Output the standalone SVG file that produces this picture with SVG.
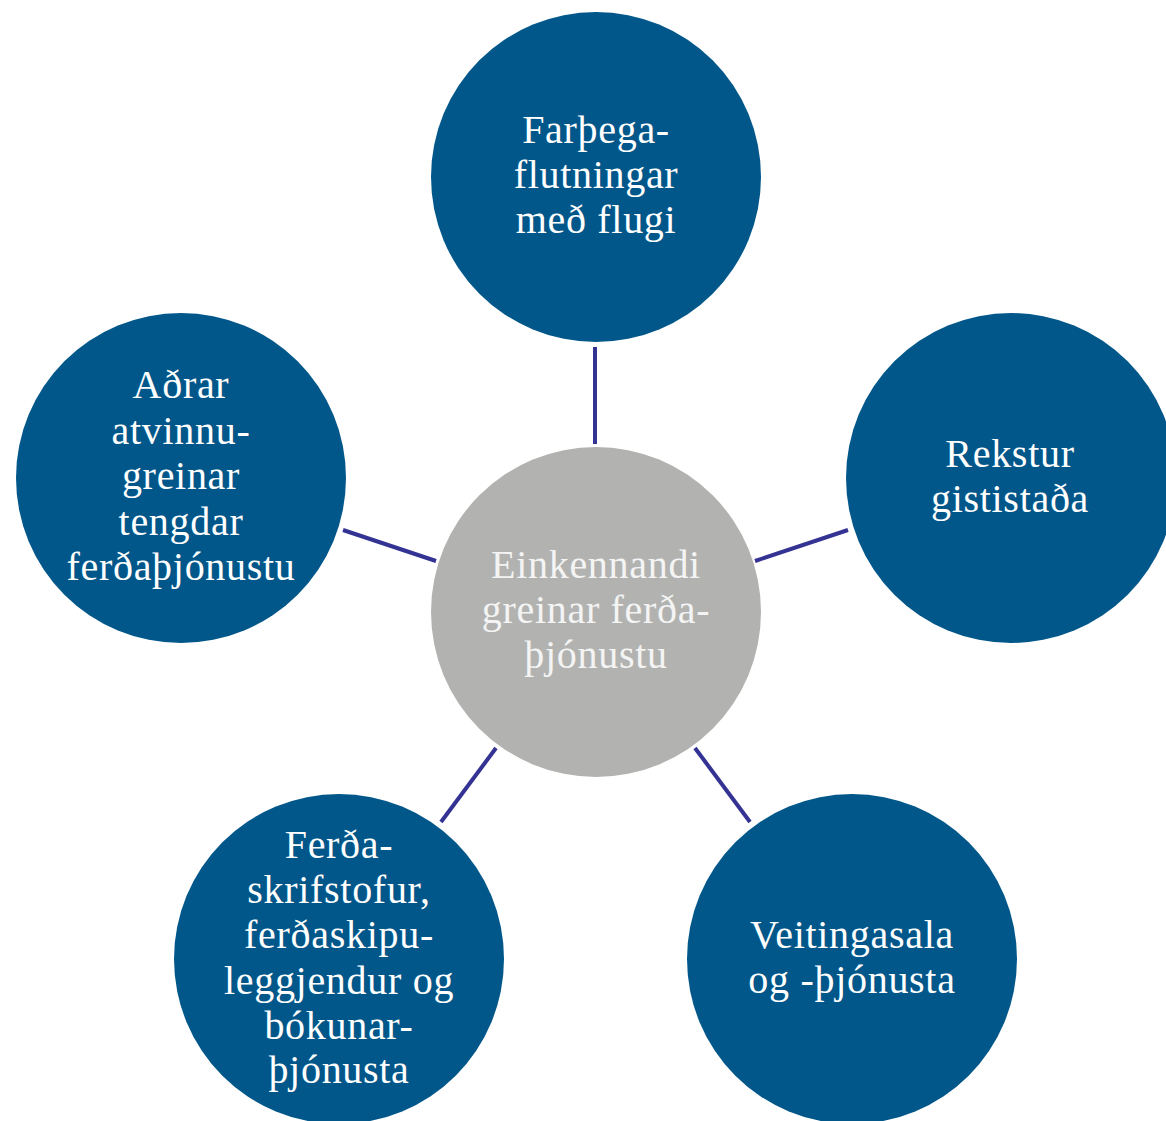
<svg xmlns="http://www.w3.org/2000/svg" width="1166" height="1121" viewBox="0 0 1166 1121">
<style>
.outer{fill:#02578A}
.core{fill:#B2B3B1}
.lbl{font-family:"Liberation Serif","DejaVu Serif",serif;font-size:40px;fill:#FFFFFF;text-anchor:middle;letter-spacing:0.7px}
.lblc{fill:#F4F4F4}
.conn{stroke:#343393;stroke-width:4;fill:none}
</style>
<rect width="1166" height="1121" fill="#FFFFFF"/>
<g id="connectors">
<line class="conn" x1="595" y1="347" x2="595" y2="444"/>
<line class="conn" x1="343" y1="530" x2="436" y2="561"/>
<line class="conn" x1="755" y1="561" x2="848" y2="530"/>
<line class="conn" x1="496" y1="748" x2="441" y2="822"/>
<line class="conn" x1="695" y1="748" x2="750" y2="822"/>
</g>
<g id="node-center">
<circle class="core" cx="596" cy="612" r="165"/>
<text class="lbl lblc"><tspan x="596" y="578">Einkennandi</tspan><tspan x="596" y="623">greinar ferða-</tspan><tspan x="596" y="668">þjónustu</tspan></text>
</g>
<g id="node-top">
<circle class="outer" cx="596" cy="177" r="165"/>
<text class="lbl"><tspan x="596" y="143">Farþega-</tspan><tspan x="596" y="188">flutningar</tspan><tspan x="596" y="233">með flugi</tspan></text>
</g>
<g id="node-left">
<circle class="outer" cx="181" cy="478" r="165"/>
<text class="lbl"><tspan x="181" y="398">Aðrar</tspan><tspan x="181" y="444">atvinnu-</tspan><tspan x="181" y="489">greinar</tspan><tspan x="181" y="535">tengdar</tspan><tspan x="181" y="580">ferðaþjónustu</tspan></text>
</g>
<g id="node-right">
<circle class="outer" cx="1011" cy="478" r="165"/>
<text class="lbl"><tspan x="1010" y="467">Rekstur</tspan><tspan x="1010" y="512">gististaða</tspan></text>
</g>
<g id="node-bottom-left">
<circle class="outer" cx="339" cy="959" r="165"/>
<text class="lbl"><tspan x="339" y="858">Ferða-</tspan><tspan x="339" y="903">skrifstofur,</tspan><tspan x="339" y="948">ferðaskipu-</tspan><tspan x="339" y="994">leggjendur og</tspan><tspan x="339" y="1039">bókunar-</tspan><tspan x="339" y="1083">þjónusta</tspan></text>
</g>
<g id="node-bottom-right">
<circle class="outer" cx="852" cy="959" r="165"/>
<text class="lbl"><tspan x="852" y="948">Veitingasala</tspan><tspan x="852" y="993">og -þjónusta</tspan></text>
</g>
</svg>
